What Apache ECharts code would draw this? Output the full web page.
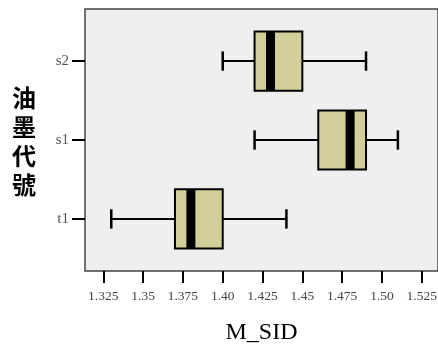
<!DOCTYPE html>
<html><head><meta charset="utf-8">
<script src="https://cdn.jsdelivr.net/npm/echarts@6/dist/echarts.min.js"></script>
<style>html,body{margin:0;padding:0;background:#fff}#c{width:438px;height:349px}</style>
</head><body><div id="c"></div>
<script>
// categories (bottom to top)
const categories = ['t1', 's1', 's2'];
// five-number summaries: [low whisker, Q1, median, Q3, high whisker]
const lowWhisker = [1.33, 1.42, 1.40];
const q1 = [1.37, 1.46, 1.42];
const median = [1.38, 1.48, 1.43];
const q3 = [1.40, 1.49, 1.45];
const highWhisker = [1.44, 1.51, 1.49];
// x tick labels
const xTicks = [1.325, 1.35, 1.375, 1.40, 1.425, 1.45, 1.475, 1.50, 1.525];
const xTickLabels = ['1.325', '1.35', '1.375', '1.40', '1.425', '1.45', '1.475', '1.50', '1.525'];

const data = categories.map((c, i) => [i, lowWhisker[i], q1[i], median[i], q3[i], highWhisker[i]]);

const chart = echarts.init(document.getElementById('c'), null, {renderer: 'canvas'});
const serif = '"Liberation Serif","DejaVu Serif",serif';

chart.setOption({
  animation: false,
  backgroundColor: '#fff',
  grid: {
    left: 85, top: 9, right: 0, bottom: 78,
    outerBoundsMode: 'none', containLabel: false,
    show: true, backgroundColor: '#efefef', borderColor: '#444', borderWidth: 1.5
  },
  xAxis: {
    type: 'value', min: 1.3135, max: 1.5352,
    name: 'M_SID', nameLocation: 'middle', nameGap: 50,
    nameTextStyle: {fontFamily: serif, fontSize: 24, color: '#000'},
    axisLine: {show: false, onZero: false},
    splitLine: {show: false},
    axisTick: {show: true, length: 12, inside: false, customValues: xTicks, lineStyle: {color: '#000', width: 2}},
    axisLabel: {
      customValues: xTicks, margin: 18,
      fontFamily: serif, fontSize: 13.5, color: '#444',
      formatter: v => { const i = xTicks.findIndex(t => Math.abs(t - v) < 1e-9); return i >= 0 ? xTickLabels[i] : ''; }
    }
  },
  yAxis: {
    type: 'value', min: -0.66, max: 2.66,
    axisLine: {show: false, onZero: false},
    splitLine: {show: false},
    axisTick: {show: true, length: 13, customValues: [0, 1, 2], lineStyle: {color: '#000', width: 2}},
    axisLabel: {
      customValues: [0, 1, 2], margin: 16,
      fontFamily: serif, fontSize: 15, color: '#555',
      formatter: v => categories[Math.round(v)] || ''
    }
  },
  graphic: [{
    type: 'text', left: 12, top: 83,
    style: {text: '油\n墨\n代\n號', font: '600 24px "Noto Sans CJK TC"', fill: '#000', lineHeight: 29, align: 'left'}
  }],
  series: [{
    type: 'custom',
    data: data,
    encode: {x: [1, 2, 3, 4, 5], y: 0},
    renderItem: function (params, api) {
      const y = api.value(0);
      const pLow = api.coord([api.value(1), y]);
      const pQ1 = api.coord([api.value(2), y]);
      const pMed = api.coord([api.value(3), y]);
      const pQ3 = api.coord([api.value(4), y]);
      const pHigh = api.coord([api.value(5), y]);
      const boxH = api.size([0, 0.75])[1];
      const capH = api.size([0, 0.245])[1];
      const cy = pMed[1];
      const line = {stroke: '#000', lineWidth: 2};
      return {
        type: 'group',
        children: [
          {type: 'line', shape: {x1: pLow[0], y1: cy, x2: pQ1[0], y2: cy}, style: line},
          {type: 'line', shape: {x1: pQ3[0], y1: cy, x2: pHigh[0], y2: cy}, style: line},
          {type: 'line', shape: {x1: pLow[0], y1: cy - capH / 2, x2: pLow[0], y2: cy + capH / 2}, style: {stroke: '#000', lineWidth: 2.5}},
          {type: 'line', shape: {x1: pHigh[0], y1: cy - capH / 2, x2: pHigh[0], y2: cy + capH / 2}, style: {stroke: '#000', lineWidth: 2.5}},
          {type: 'rect', shape: {x: pQ1[0], y: cy - boxH / 2, width: pQ3[0] - pQ1[0], height: boxH}, style: {fill: '#d3cf9a', stroke: '#000', lineWidth: 2}},
          {type: 'rect', shape: {x: pMed[0] - 4.5, y: cy - boxH / 2, width: 9, height: boxH}, style: {fill: '#000'}}
        ]
      };
    }
  }]
});
</script></body></html>
